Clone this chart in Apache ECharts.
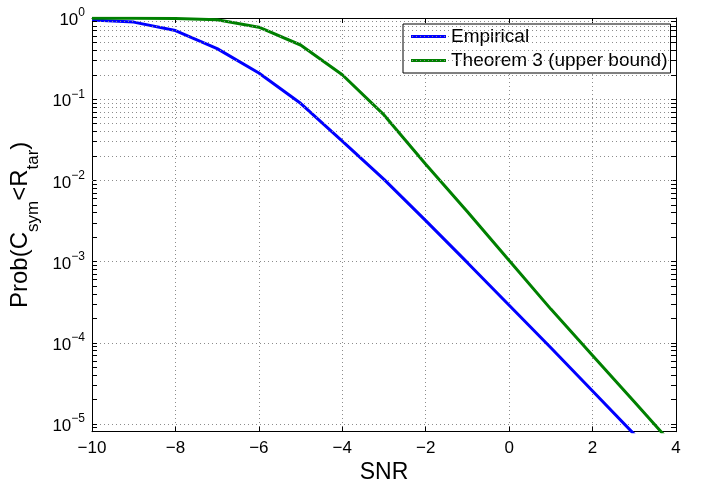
<!DOCTYPE html>
<html>
<head>
<meta charset="utf-8">
<script src="https://cdn.jsdelivr.net/npm/echarts@6/dist/echarts.min.js"></script>
<style>html,body{margin:0;padding:0;background:#fff}#c{width:702px;height:481px}</style>
</head>
<body>
<div id="c"></div>
<script>
const snr = [-10,-9,-8,-7,-6,-5,-4,-3,-2,-1,0,1,2,3,4];
const empirical = [0.945,0.89,0.70,0.42,0.21,0.089,0.0305,0.0103,0.0032,0.00097,0.00029,8.7e-5,2.55e-5,7.45e-6,2.2e-6];
const theorem3 = [0.995,0.993,0.985,0.95,0.77,0.465,0.2,0.064,0.0158,0.0041,0.00103,2.6e-4,7.0e-5,1.88e-5,5.0e-6];
const seriesNames = ['Empirical','Theorem 3 (upper bound)'];
const yMin = 8.04e-6, yMax = 1;
const xMin = -10, xMax = 4, xStep = 2;

const FONT = '"Liberation Sans", Arial, sans-serif';
const minorVals = [];
for (let e = -6; e <= -1; e++) for (let k = 2; k <= 9; k++) {
  const v = k * Math.pow(10, e);
  if (v > yMin && v < yMax) minorVals.push(v);
}
const tickLen = 0.12; // in x units (~5px)
const minorTicks = [];
minorVals.forEach(v => {
  minorTicks.push([{coord:[xMin, v]}, {coord:[xMin + tickLen, v]}]);
  minorTicks.push([{coord:[xMax, v]}, {coord:[xMax - tickLen, v]}]);
});
const gridStyle = {color:'#8c8c8c', width:1, type:[1,3]};

const chart = echarts.init(document.getElementById('c'), null, {renderer:'canvas'});
const expFmt = v => {
  const l = Math.log10(v);
  const r = Math.round(l);
  if (Math.abs(l - r) > 1e-6) return '';
  return '{b|10}{e|' + String(r).replace('-', '\u2212') + '}';
};
const boxAxis = {
  axisLine:{onZero:false, lineStyle:{color:'#000', width:1}},
  axisTick:{inside:true, length:5, lineStyle:{color:'#000'}},
  axisLabel:{show:false}, splitLine:{show:false}
};
chart.setOption({
  animation:false,
  grid:{left:92, right:26, top:18, bottom:49.3, containLabel:false, outerBoundsMode:'none'},
  legend:{
    data:seriesNames, orient:'vertical', left:403, top:24,
    backgroundColor:'#fff', borderColor:'#000', borderWidth:1,
    padding:[3,3,3,8], itemGap:5, itemWidth:35, itemHeight:3, icon:'rect',
    textStyle:{fontFamily:FONT, fontSize:19, color:'#000'}
  },
  xAxis:[{
    type:'value', min:xMin, max:xMax, interval:xStep,
    name:'SNR', nameLocation:'middle', nameGap:25,
    nameTextStyle:{fontFamily:FONT, fontSize:23, color:'#000'},
    axisLine:{onZero:false, lineStyle:{color:'#000', width:1}},
    axisTick:{inside:true, length:5, lineStyle:{color:'#000'}},
    axisLabel:{fontFamily:FONT, fontSize:17, color:'#000', margin:8,
      formatter:v => String(v).replace('-', '\u2212')},
    splitLine:{show:true, lineStyle:gridStyle}
  }, Object.assign({type:'value', min:xMin, max:xMax, interval:xStep, position:'top'}, boxAxis)],
  yAxis:[{
    type:'log', logBase:10, min:yMin, max:yMax,
    name:'{p|Prob(C}{s|sym}{p|<R}{s|tar}{p|)}', nameLocation:'middle', nameGap:41, nameRotate:90,
    nameTextStyle:{fontFamily:FONT, color:'#000',
      rich:{p:{fontFamily:FONT, fontSize:24, color:'#000', verticalAlign:'bottom', padding:[0,0,9,0]},
            s:{fontFamily:FONT, fontSize:17, color:'#000', verticalAlign:'bottom'}}},
    axisLine:{onZero:false, lineStyle:{color:'#000', width:1}},
    axisTick:{inside:true, length:5, lineStyle:{color:'#000'}},
    axisLabel:{fontFamily:FONT, color:'#000', margin:7, formatter:expFmt,
      rich:{b:{fontFamily:FONT, fontSize:17, color:'#000', verticalAlign:'bottom'},
            e:{fontFamily:FONT, fontSize:12, color:'#000', verticalAlign:'bottom', padding:[0,0,10,0]}}},
    splitLine:{show:true, lineStyle:gridStyle}
  }, Object.assign({type:'log', logBase:10, min:yMin, max:yMax, position:'right'}, boxAxis)],
  series:[{
    name:seriesNames[0], type:'line', symbol:'none', clip:true,
    data:snr.map((x,i)=>[x, empirical[i]]),
    lineStyle:{color:'#0000ff', width:3}, itemStyle:{color:'#0000ff'},
    markLine:{silent:true, symbol:'none', label:{show:false}, animation:false,
      lineStyle:gridStyle, data:minorVals.map(v=>({yAxis:v}))},
    z:3
  },{
    name:seriesNames[1], type:'line', symbol:'none', clip:true,
    data:snr.map((x,i)=>[x, theorem3[i]]),
    lineStyle:{color:'#008000', width:3}, itemStyle:{color:'#008000'},
    markLine:{silent:true, symbol:'none', label:{show:false}, animation:false,
      lineStyle:{color:'#000', width:1, type:'solid'}, data:minorTicks},
    z:3
  }]
});
</script>
</body>
</html>
